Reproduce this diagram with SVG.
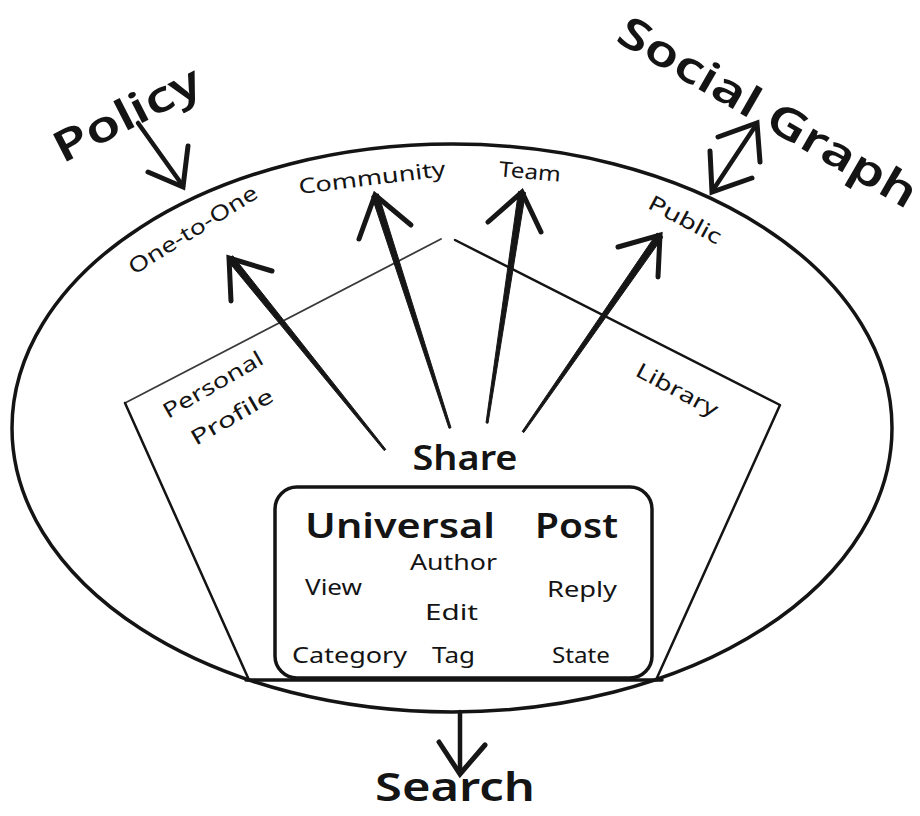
<svg xmlns="http://www.w3.org/2000/svg" width="920" height="816" viewBox="0 0 920 816">
  <style>
    .ink { fill: none; stroke: #141414; stroke-linecap: round; stroke-linejoin: round; }
    .rim { stroke-width: 3.5; }
    .edge { stroke-width: 2.5; }
    .edge-thin { stroke-width: 1.8; stroke: #3a3a3a; }
    .shaft { fill: #161616; stroke: #161616; stroke-width: 1; stroke-linejoin: round; }
    .head { fill: none; stroke: #161616; stroke-width: 5; stroke-linecap: round; stroke-linejoin: miter; stroke-miterlimit: 8; }
    .line { fill: none; stroke: #161616; stroke-width: 4.5; stroke-linecap: round; }
    .t { font-family: "Noto Sans", "DejaVu Sans", sans-serif; fill: #141414; }
    .big { font-size: 43px; font-weight: 600; }
    .search { font-size: 39px; font-weight: 600; }
    .mid { font-size: 35px; font-weight: 600; }
    .small { font-size: 21px; }
  </style>

  <rect width="920" height="816" fill="#ffffff"/>

  <!-- outer sharing scope -->
  <g id="scope">
    <ellipse class="ink rim" cx="452" cy="428" rx="440" ry="284"/>
  </g>

  <!-- pentagon of personal spaces -->
  <g id="spaces">
    <path class="ink edge-thin" d="M125 403 L441 239"/>
    <path class="ink edge" d="M455 240 L780 405 L656 680"/>
    <path class="ink edge" d="M125 403 L249 680"/>
    <path class="ink rim" d="M246 680 L662 680"/>
  </g>

  <g id="personal-profile">
    <g transform="translate(213,385) rotate(-30)">
      <text class="t small" x="0" y="7" text-anchor="middle" textLength="112" lengthAdjust="spacingAndGlyphs">Personal</text>
    </g>
    <g transform="translate(232,417) rotate(-30)">
      <text class="t small" x="0" y="7" text-anchor="middle" textLength="92" lengthAdjust="spacingAndGlyphs">Profile</text>
    </g>
  </g>

  <g id="library">
    <g transform="translate(677,390) rotate(28)">
      <text class="t small" x="0" y="7" text-anchor="middle" textLength="90" lengthAdjust="spacingAndGlyphs">Library</text>
    </g>
  </g>

  <!-- audiences along the rim -->
  <g id="one-to-one">
    <g transform="translate(193,230) rotate(-32)">
      <text class="t small" x="0" y="7" text-anchor="middle" textLength="148" lengthAdjust="spacingAndGlyphs">One-to-One</text>
    </g>
  </g>
  <g id="community">
    <g transform="translate(372,178) rotate(-7)">
      <text class="t small" x="0" y="7" text-anchor="middle" textLength="148" lengthAdjust="spacingAndGlyphs">Community</text>
    </g>
  </g>
  <g id="team">
    <g transform="translate(530,172) rotate(5)">
      <text class="t small" x="0" y="7" text-anchor="middle" textLength="62" lengthAdjust="spacingAndGlyphs">Team</text>
    </g>
  </g>
  <g id="public">
    <g transform="translate(685,220) rotate(28)">
      <text class="t small" x="0" y="7" text-anchor="middle" textLength="80" lengthAdjust="spacingAndGlyphs">Public</text>
    </g>
  </g>

  <!-- external concerns -->
  <g id="policy">
    <g transform="translate(127,114) rotate(-27)">
      <text class="t big" x="0" y="15" text-anchor="middle" textLength="160" lengthAdjust="spacingAndGlyphs">Policy</text>
    </g>
  </g>
  <g id="social-graph">
    <g transform="translate(768,112) rotate(30)">
      <text class="t big" x="0" y="15" text-anchor="middle" textLength="338" lengthAdjust="spacingAndGlyphs">Social Graph</text>
    </g>
  </g>
  <g id="search">
    <text class="t search" x="455" y="801" text-anchor="middle" textLength="160" lengthAdjust="spacingAndGlyphs">Search</text>
  </g>

  <!-- share hub -->
  <g id="share">
    <text class="t mid" x="465" y="470" text-anchor="middle" textLength="105" lengthAdjust="spacingAndGlyphs">Share</text>
  </g>

  <!-- universal post -->
  <g id="universal-post">
    <rect class="ink rim" x="275" y="487" width="377" height="191" rx="22" ry="22"/>
    <text class="t mid" x="305" y="538" textLength="190" lengthAdjust="spacingAndGlyphs">Universal</text>
    <text class="t mid" x="535" y="538" textLength="83" lengthAdjust="spacingAndGlyphs">Post</text>
    <text class="t small" x="410" y="570" textLength="87" lengthAdjust="spacingAndGlyphs">Author</text>
    <text class="t small" x="305" y="595" textLength="57" lengthAdjust="spacingAndGlyphs">View</text>
    <text class="t small" x="547" y="597" textLength="70" lengthAdjust="spacingAndGlyphs">Reply</text>
    <text class="t small" x="425" y="620" textLength="53" lengthAdjust="spacingAndGlyphs">Edit</text>
    <text class="t small" x="292" y="663" textLength="115" lengthAdjust="spacingAndGlyphs">Category</text>
    <text class="t small" x="432" y="663" textLength="43" lengthAdjust="spacingAndGlyphs">Tag</text>
    <text class="t small" x="552" y="663" textLength="58" lengthAdjust="spacingAndGlyphs">State</text>
  </g>

  <!-- connectors -->
  <g id="connectors">
    <!-- share to one-to-one -->
    <polygon class="shaft" points="385.8,449.4 384.2,450.6 227.3,260.2 232.7,255.8"/>
    <path class="head" d="M272 271 L229 258 L231 301"/>
    <!-- share to community -->
    <polygon class="shaft" points="451,427.7 449,428.3 371.7,196.1 378.3,193.9"/>
    <path class="head" d="M359 239 L375 195 L411 225"/>
    <!-- share to team -->
    <polygon class="shaft" points="488,423.2 486,422.8 518.5,191.5 525.5,192.5"/>
    <path class="head" d="M488 222 L522 192 L541 232"/>
    <!-- share to public -->
    <polygon class="shaft" points="523.8,432.6 522.2,431.4 657.1,233 662.9,237"/>
    <path class="head" d="M618 247 L660 235 L658 277"/>

    <!-- policy into the rim -->
    <path class="line" d="M138 123 L183 186"/>
    <path class="head" d="M148 172 L183 187 L188 146"/>

    <!-- social graph exchange -->
    <path class="line" d="M713 190 L756 125"/>
    <path class="head" d="M718 137 L757 123 L760 162"/>
    <path class="head" d="M710 151 L712 192 L752 178"/>

    <!-- rim down to search -->
    <path class="line" d="M460 712 L460 773"/>
    <path class="head" d="M439 742 L460 774 L485 745"/>
  </g>
</svg>
